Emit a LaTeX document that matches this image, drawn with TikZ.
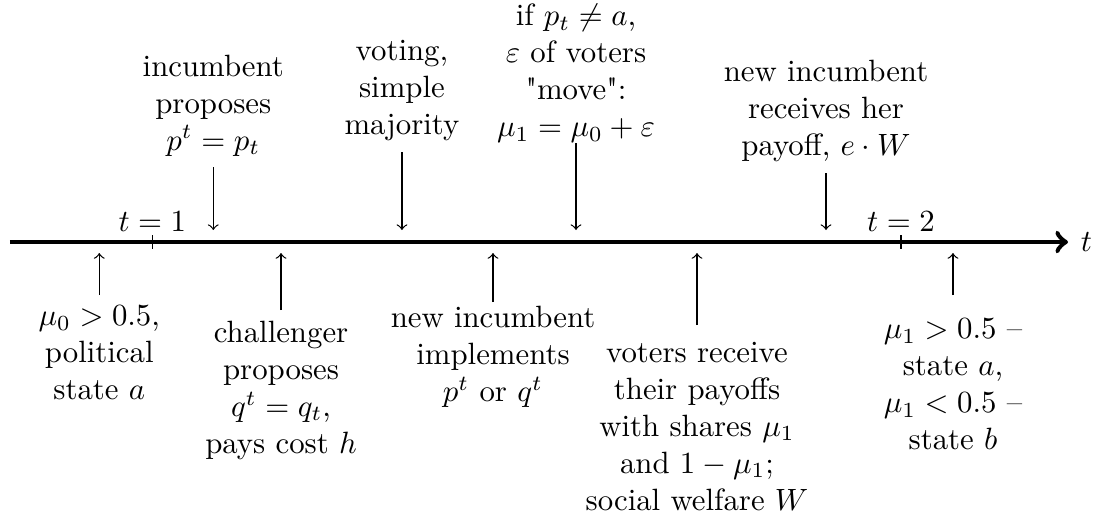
\documentclass[tikz,border=0pt]{standalone}
\usepackage{fontspec}
\begin{document}
\begin{tikzpicture}[lbl/.style={align=center},evt/.style={->}]
\useasboundingbox (0,-3.229) rectangle (12.587,2.762);
% time axis
\coordinate (o) at (0.114,0);
\coordinate (tend) at (12.188,0);
\coordinate (dn) at (0,0.137);
\coordinate (up) at (0,-0.126);
\draw[->,ultra thick] (o) -- (tend) node[right] (tax) {$t$};
\foreach \x/\n in {1.738/1,10.282/2}{
	\draw (\x,0.08) -- (\x,-0.08);
	\node[above] (t\n) at (\x,0) {$t=\n$};
}
% events above the axis
\node[lbl,anchor=south] (inc) at (2.434,0.856) {incumbent\\proposes\\$p^t = p_t$};
\node[lbl,anchor=south] (vote) at (4.587,1.027) {voting,\\simple\\majority};
\node[lbl,anchor=south] (move) at (6.573,1.012) {if $p_t \neq a$,\\$\varepsilon$ of voters\\\textquotedbl move\textquotedbl:\\$\mu_1 = \mu_0 + \varepsilon$};
\node[lbl,anchor=south] (ipay) at (9.426,0.787) {new incumbent\\receives her\\payoff, $e \cdot W$};
\draw[evt] (inc.south) -- (inc.south |- dn);
\draw[evt] (vote.south) -- (vote.south |- dn);
\draw[evt,shorten <=-0.118cm] (move.south) -- (move.south |- dn);
\draw[evt] (ipay.south) -- (ipay.south |- dn);
% events below the axis
\node[lbl,anchor=north] (init) at (1.133,-0.605) {$\mu_0 > 0.5$,\\political\\state $a$};
\node[lbl,anchor=north] (chal) at (3.207,-0.776) {challenger\\proposes\\$q^t = q_t$,\\pays cost $h$};
\node[lbl,anchor=north] (impl) at (5.626,-0.612) {new incumbent\\implements\\$p^t$ or $q^t$};
\node[lbl,anchor=north] (vpay) at (7.954,-1.017) {voters receive\\their payoffs\\with shares $\mu_1$\\and $1 - \mu_1$;\\social welfare $W$};
\node[lbl,anchor=north] (state) at (10.875,-0.752) {$\mu_1 > 0.5$ --\\state $a$,\\$\mu_1 < 0.5$ --\\state $b$};
\draw[evt] (init.north) -- (init.north |- up);
\draw[evt] (chal.north) -- (chal.north |- up);
\draw[evt,shorten <=-0.073cm] (impl.north) -- (impl.north |- up);
\draw[evt,shorten <=0.07cm] (vpay.north) -- (vpay.north |- up);
\draw[evt,shorten <=0.147cm] (state.north) -- (state.north |- up);
\end{tikzpicture}
\end{document}
